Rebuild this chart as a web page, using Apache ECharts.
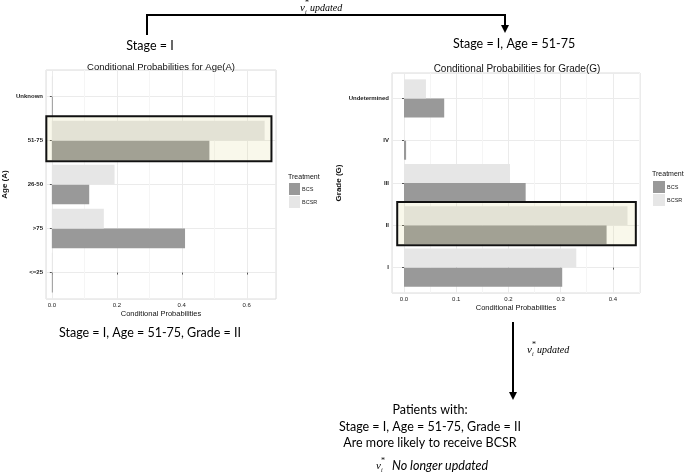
<!DOCTYPE html>
<html>
<head>
<meta charset="UTF-8">
<title>Conditional Probabilities</title>
<script src="https://cdn.jsdelivr.net/npm/echarts@6/dist/echarts.min.js"></script>
<style>
  html, body { margin: 0; padding: 0; background: #fff; }
  #main { width: 685px; height: 474px; }
</style>
</head>
<body>
<div id="main"></div>
<script>
// data
var ageCats = ['<=25', '>75', '26-50', '51-75', 'Unknown'];
var ageBCS  = [0.002, 0.41, 0.115, 0.485, 0.002];
var ageBCSR = [0.002, 0.16, 0.193, 0.655, 0.001];

var gradeCats = ['I', 'II', 'III', 'IV', 'Undetermined'];
var gradeBCS  = [0.303, 0.388, 0.233, 0.004, 0.077];
var gradeBCSR = [0.330, 0.428, 0.203, 0, 0.042];

var ageTicks = [0, 0.2, 0.4, 0.6];
var gradeTicks = [0, 0.1, 0.2, 0.3, 0.4];

var colBCS = '#999999', colBCSR = '#e6e6e6';
var axisFont = 'Liberation Sans';
var noteFont = 'Lato';

var myChart = echarts.init(document.getElementById('main'));

function barItem(upper) {
  return function (params, api) {
    var cat = api.value(1), val = api.value(0);
    var p0 = api.coord([0, cat]);
    var p1 = api.coord([val, cat]);
    var h = api.size([0, 1])[1] * 0.45;
    var w = Math.max(p1[0] - p0[0], val > 0 ? 1 : 0);
    return {
      type: 'rect',
      shape: { x: p0[0], y: upper ? p0[1] - h : p0[1], width: w, height: h },
      style: api.style()
    };
  };
}

function pairs(arr) {
  return arr.map(function (v, i) { return [v, i]; });
}

function onTick(ticks, v) {
  return ticks.some(function (t) { return Math.abs(t - v) < 1e-6; });
}

function xAxisFor(idx, ticks, min, max) {
  return {
    gridIndex: idx, type: 'value', min: min, max: max,
    splitNumber: ticks.length,
    name: 'Conditional Probabilities', nameLocation: 'middle', nameGap: 11,
    nameTextStyle: { fontFamily: axisFont, fontSize: 7.5, color: '#111' },
    axisLine: { show: false },
    axisTick: { show: true, length: 2, lineStyle: { color: '#555' } },
    axisLabel: {
      fontFamily: axisFont, fontSize: 6, color: '#222', margin: 3,
      showMinLabel: false, showMaxLabel: false,
      formatter: function (v) { return onTick(ticks, v) ? v.toFixed(1) : ''; }
    },
    splitLine: { lineStyle: { color: '#ebebeb', width: 1 } },
    minorTick: { show: false, splitNumber: 2 },
    minorSplitLine: { show: true, lineStyle: { color: '#f5f5f5' } }
  };
}

function yAxisFor(idx, cats, name, gap) {
  return {
    gridIndex: idx, type: 'value', min: -0.6, max: cats.length - 0.4,
    splitNumber: cats.length,
    name: name, nameLocation: 'middle', nameGap: gap, nameRotate: 90,
    nameTextStyle: { fontFamily: axisFont, fontSize: 8, fontWeight: 'bold', color: '#111' },
    axisLine: { show: false },
    axisTick: { show: true, length: 2, lineStyle: { color: '#555' } },
    axisLabel: {
      fontFamily: axisFont, fontSize: 6, fontWeight: 'bold', color: '#222', margin: 3,
      showMinLabel: false, showMaxLabel: false,
      formatter: function (v) {
        return Math.abs(v - Math.round(v)) < 1e-6 ? (cats[Math.round(v)] || '') : '';
      }
    },
    splitLine: { lineStyle: { color: '#ebebeb', width: 1 } }
  };
}

var option = {
  animation: false,
  backgroundColor: '#fff',
  title: [
    { text: 'Conditional Probabilities for Age(A)', left: 156, top: 57, textAlign: 'center',
      textStyle: { fontFamily: axisFont, fontSize: 9.5, fontWeight: 'normal', color: '#111' } },
    { text: 'Conditional Probabilities for Grade(G)', left: 512, top: 59, textAlign: 'center',
      textStyle: { fontFamily: axisFont, fontSize: 10, fontWeight: 'normal', color: '#111' } },
    { text: 'Treatment', left: 283, top: 169,
      textStyle: { fontFamily: axisFont, fontSize: 7, fontWeight: 'normal', color: '#111' } },
    { text: 'Treatment', left: 647, top: 166,
      textStyle: { fontFamily: axisFont, fontSize: 7, fontWeight: 'normal', color: '#111' } }
  ],
  legend: [
    { data: ['BCS', 'BCSR'], orient: 'vertical', left: 284, top: 178, icon: 'rect',
      itemWidth: 11, itemHeight: 12, itemGap: 1, selectedMode: false,
      textStyle: { fontFamily: axisFont, fontSize: 5.5, color: '#222', padding: [0, 0, 0, -3] } },
    { data: ['BCS', 'BCSR'], orient: 'vertical', left: 648, top: 176, icon: 'rect',
      itemWidth: 12, itemHeight: 12, itemGap: 1, selectedMode: false,
      textStyle: { fontFamily: axisFont, fontSize: 5.5, color: '#222', padding: [0, 0, 0, -3] } }
  ],
  grid: [
    { left: 42, top: 70, width: 234, height: 229, show: true, borderColor: '#dcdcdc', borderWidth: 1, backgroundColor: '#fff' },
    { left: 392, top: 73, width: 248, height: 220, show: true, borderColor: '#dcdcdc', borderWidth: 1, backgroundColor: '#fff' }
  ],
  xAxis: [
    xAxisFor(0, ageTicks, -0.018, 0.69),
    xAxisFor(1, gradeTicks, -0.023, 0.452)
  ],
  yAxis: [
    yAxisFor(0, ageCats, 'Age (A)', 37),
    yAxisFor(1, gradeCats, 'Grade (G)', 49)
  ],
  series: [
    { name: 'BCS', type: 'custom', xAxisIndex: 0, yAxisIndex: 0, renderItem: barItem(false),
      itemStyle: { color: colBCS }, data: pairs(ageBCS) },
    { name: 'BCSR', type: 'custom', xAxisIndex: 0, yAxisIndex: 0, renderItem: barItem(true),
      itemStyle: { color: colBCSR }, data: pairs(ageBCSR) },
    { name: 'BCS', type: 'custom', xAxisIndex: 1, yAxisIndex: 1, renderItem: barItem(false),
      itemStyle: { color: colBCS }, data: pairs(gradeBCS) },
    { name: 'BCSR', type: 'custom', xAxisIndex: 1, yAxisIndex: 1, renderItem: barItem(true),
      itemStyle: { color: colBCSR }, data: pairs(gradeBCSR) }
  ]
};
myChart.setOption(option);

// highlight boxes placed through the axes' own scales
function boxFor(gridIndex, cat, x0, x1) {
  var a = myChart.convertToPixel({ gridIndex: gridIndex }, [x0, cat + 0.55]);
  var b = myChart.convertToPixel({ gridIndex: gridIndex }, [x1, cat - 0.47]);
  return {
    type: 'rect', z: 100,
    shape: { x: a[0], y: a[1], width: b[0] - a[0], height: b[1] - a[1] },
    style: { fill: 'rgba(215,205,120,0.15)', stroke: '#111', lineWidth: 2 }
  };
}

function noteText(txt, x, y, size, align) {
  return { type: 'text', x: x, y: y, z: 100, style: {
    text: txt, font: size + 'px "' + noteFont + '"', fill: '#000',
    textAlign: align || 'center', textVerticalAlign: 'middle' } };
}

// italic v with sub i and sup *, then trailing words
function vNote(x, y, rest, restFont, gap) {
  return [
    { type: 'text', x: x, y: y, z: 100, style: { text: 'v', font: 'italic 11px "Liberation Serif"', fill: '#000', textVerticalAlign: 'middle' } },
    { type: 'text', x: x + 5, y: y - 5, z: 100, style: { text: '*', font: '8px "Liberation Serif"', fill: '#000', textVerticalAlign: 'middle' } },
    { type: 'text', x: x + 5, y: y + 4, z: 100, style: { text: 'i', font: 'italic 6px "Liberation Serif"', fill: '#000', textVerticalAlign: 'middle' } },
    { type: 'text', x: x + gap, y: y, z: 100, style: { text: rest, font: restFont, fill: '#000', textVerticalAlign: 'middle' } }
  ];
}

var line = { stroke: '#000', lineWidth: 2, fill: null };
var graphics = [
  boxFor(0, 3, -0.017, 0.676),
  boxFor(1, 1, -0.013, 0.444),
  { type: 'polyline', z: 100, shape: { points: [[147, 35], [147, 15], [505, 15], [505, 26]] }, style: line },
  { type: 'polygon', z: 100, shape: { points: [[501, 25], [509, 25], [505, 33]] }, style: { fill: '#000' } },
  { type: 'line', z: 100, shape: { x1: 513, y1: 322, x2: 513, y2: 393 }, style: line },
  { type: 'polygon', z: 100, shape: { points: [[509, 392], [517, 392], [513, 400]] }, style: { fill: '#000' } },
  noteText('Stage = I', 150, 46, 12.5),
  noteText('Stage = I, Age = 51-75', 453, 44, 12.5, 'left'),
  noteText('Stage = I, Age = 51-75, Grade = II', 150, 333, 12.5),
  noteText('Patients with:', 430, 410, 12.5),
  noteText('Stage = I, Age = 51-75, Grade = II', 430, 427, 12.5),
  noteText('Are more likely to receive BCSR', 430, 443, 12.5)
];
graphics = graphics
  .concat(vNote(300, 8, 'updated', 'italic 10px "Liberation Serif"', 10))
  .concat(vNote(527, 350, 'updated', 'italic 10px "Liberation Serif"', 10))
  .concat(vNote(376, 466, 'No longer updated', 'italic 12.5px "' + noteFont + '"', 16));

myChart.setOption({ graphic: graphics });
</script>
</body>
</html>
